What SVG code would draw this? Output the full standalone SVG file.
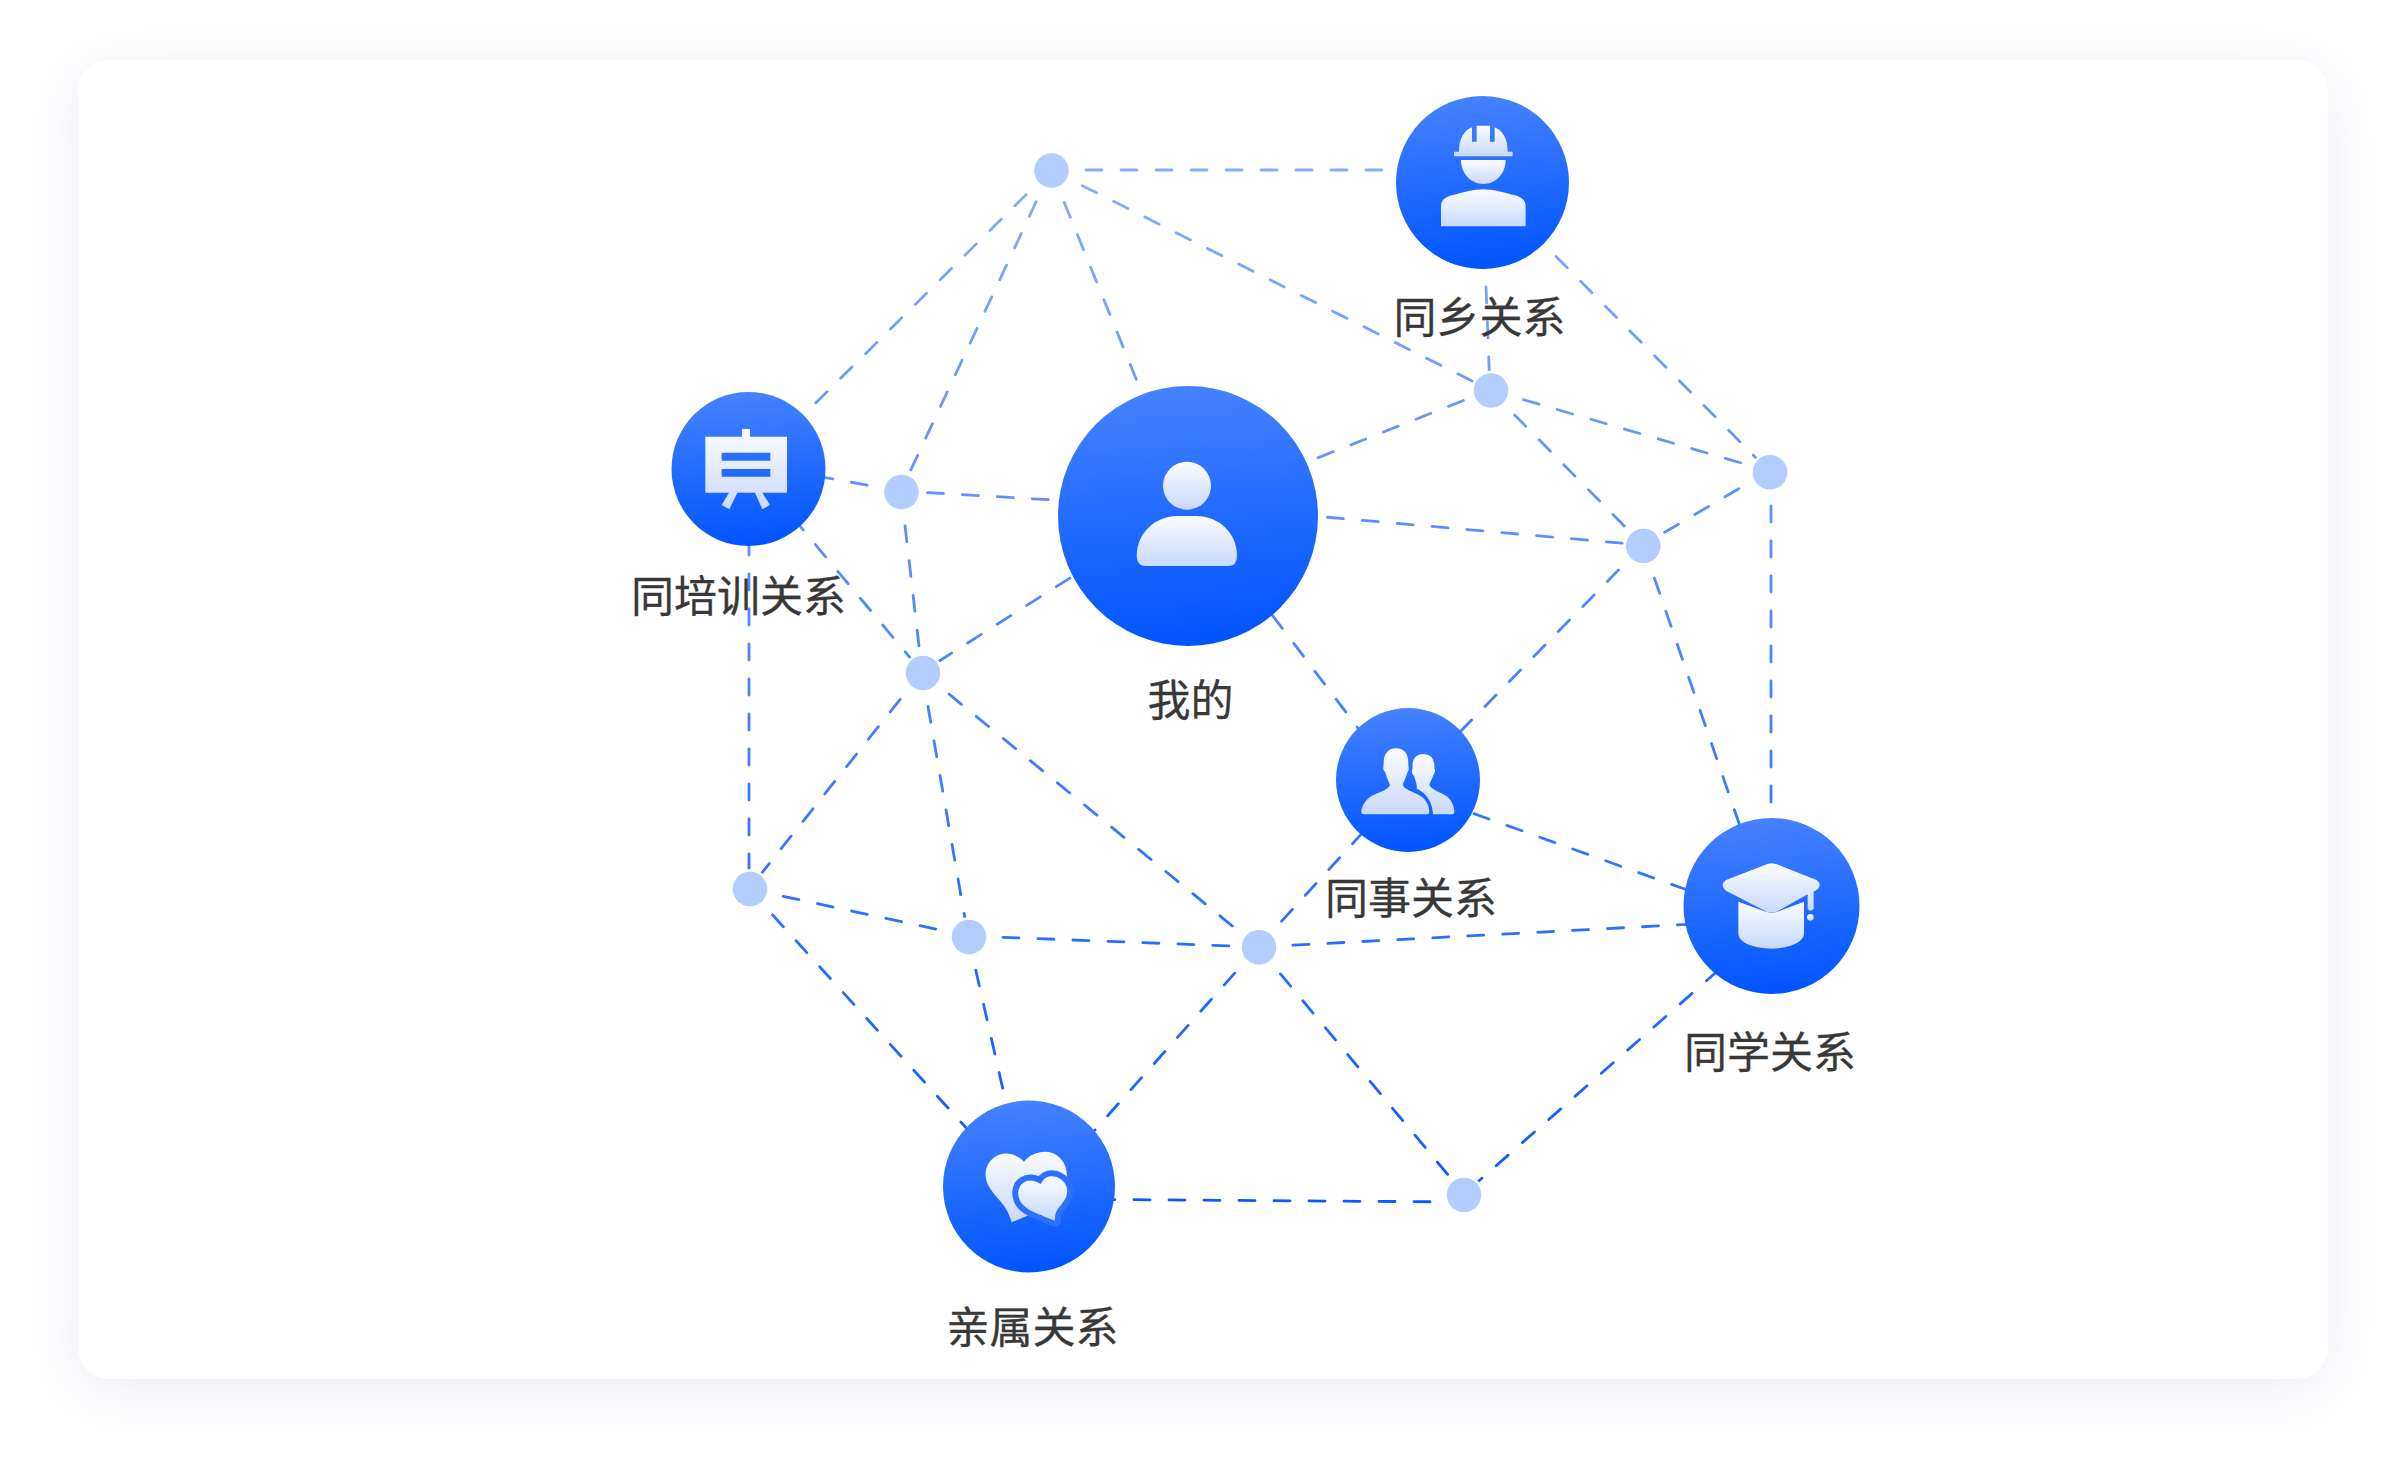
<svg xmlns="http://www.w3.org/2000/svg" width="2406" height="1475" viewBox="0 0 2406 1475">
<style>
.edge{fill:none;stroke:url(#edgeGrad);stroke-width:2.8;stroke-dasharray:16 19;stroke-linecap:round}
.dot{fill:#b3cefe;stroke:#fff;stroke-width:5;paint-order:stroke}
.disc{fill:url(#discGrad)}
.ic{fill:url(#iconGrad)}
.label{font-family:"Noto Sans CJK SC","Noto Sans",sans-serif;font-size:43px;fill:#383838;stroke:#383838;stroke-width:.3;text-anchor:middle}
</style>
<defs>
<linearGradient id="discGrad" x1="0.46" y1="0" x2="0.54" y2="1"><stop offset="0" stop-color="#4582ff"/><stop offset="1" stop-color="#0054ff"/></linearGradient>
<linearGradient id="iconGrad" x1="0.5" y1="0" x2="0.5" y2="1"><stop offset="0" stop-color="#fbfcff"/><stop offset="1" stop-color="#c8d9fc"/></linearGradient>
<linearGradient id="edgeGrad" gradientUnits="userSpaceOnUse" x1="0" y1="170" x2="0" y2="1200"><stop offset="0" stop-color="#84adfb"/><stop offset="1" stop-color="#0a5aff"/></linearGradient>
<filter id="cardShadow" x="-6%" y="-10%" width="112%" height="122%"><feDropShadow dx="0" dy="12" stdDeviation="30" flood-color="#1e2878" flood-opacity="0.08"/></filter>
</defs>
<rect width="2406" height="1475" fill="#fff"/>
<rect id="card" x="78" y="60" width="2250" height="1319" rx="32" fill="#fff" filter="url(#cardShadow)"/>
<g id="connectors" class="edge">
<path d="M1051 170H1400"/>
<path d="M1051 170L748 470"/>
<path d="M1051 170L901 491"/>
<path d="M1051 170L1192 516"/>
<path d="M1051 170L1490 390"/>
<path d="M1482 182L1490 390"/>
<path d="M1482 182L1769 471"/>
<path d="M1188 509L1490 390"/>
<path d="M1490 390L1769 471"/>
<path d="M1490 390L1643 545"/>
<path d="M1769 471L1643 545"/>
<path d="M1771 471V906"/>
<path d="M1188 505L1643 545"/>
<path d="M1643 545L1408 785"/>
<path d="M1643 545L1771 916"/>
<path d="M1188 508L901 491"/>
<path d="M1188 503L922 672"/>
<path d="M1188 504L1408 794"/>
<path d="M748 464L901 491"/>
<path d="M748 464L922 672"/>
<path d="M749 469V889"/>
<path d="M901 491L922 672"/>
<path d="M922 672L749 889"/>
<path d="M922 672L968 936"/>
<path d="M922 672L1258 947"/>
<path d="M749 889L968 936"/>
<path d="M749 889L1029 1197"/>
<path d="M968 936L1258 947"/>
<path d="M968 936L1025 1186"/>
<path d="M1258 947L1408 783"/>
<path d="M1258 947L1771 920"/>
<path d="M1258 947L1029 1204"/>
<path d="M1258 947L1464 1194"/>
<path d="M1408 790L1771 920"/>
<path d="M1771 924L1464 1194"/>
<path d="M1029 1199L1464 1202"/>
</g>
<g id="dot1"><circle class="dot" cx="1051.500" cy="170.500" r="17.300"/></g>
<g id="dot2"><circle class="dot" cx="1491" cy="390.500" r="17.300"/></g>
<g id="dot3"><circle class="dot" cx="1770" cy="472.300" r="17.300"/></g>
<g id="dot4"><circle class="dot" cx="1643.300" cy="546" r="17.300"/></g>
<g id="dot5"><circle class="dot" cx="901.500" cy="492" r="17.300"/></g>
<g id="dot6"><circle class="dot" cx="923" cy="673" r="17.300"/></g>
<g id="dot7"><circle class="dot" cx="750" cy="889" r="17.300"/></g>
<g id="dot8"><circle class="dot" cx="969" cy="937" r="17.300"/></g>
<g id="dot9"><circle class="dot" cx="1259" cy="947.300" r="17.300"/></g>
<g id="dot10"><circle class="dot" cx="1464" cy="1195" r="17.300"/></g>

<g id="me">
<circle class="disc" cx="1188" cy="516" r="130"/>
<circle class="ic" cx="1187" cy="485.700" r="24"/>
<path class="ic" d="M1146 566Q1136.700 566 1136.700 556C1136.700 533 1155 516 1178 516H1196C1219 516 1237 533 1237 556Q1237 566 1228 566Z"/>
<text class="label" x="1190.500" y="716">我的</text>
</g>
<g id="hometown">
<circle class="disc" cx="1482.500" cy="182.500" r="86.500"/>
<g transform="translate(1360 60) scale(.3333)">
<path class="ic" d="M297 275C297 235 312 212 336 202V245H350V197H390V245H404V202C428 212 443 235 443 275H458V289H282V275Z"/>
<path class="ic" d="M303 300H437C437 340 408 372 370 372C332 372 303 340 303 300Z"/>
<path class="ic" d="M243 499V440C243 420 255 412 275 406C310 397 345 388 370 388C395 388 430 397 465 406C485 412 497 420 497 440V499Z"/>
</g>
<text class="label" x="1479.500" y="333">同乡关系</text>
</g>
<g id="training">
<circle class="disc" cx="748.500" cy="469" r="77"/>
<g transform="translate(640 370) scale(.3333)">
<path class="ic" fill-rule="evenodd" d="M196 200H306V177H330V200H441V368H367L390 405L367 418L345 368H292L268 418L245 405L267 368H196ZM245 248V272H391V248ZM245 297V320H391V297Z"/>
</g>
<text class="label" x="738.500" y="612">同培训关系</text>
</g>
<g id="colleague">
<circle class="disc" cx="1408" cy="780" r="72"/>
<g transform="translate(1310 690) scale(.3333)">
<path class="ic" d="M258 175C285 175 296 195 295 222C295 235 299 240 293 245C288 262 282 272 278 285C285 300 310 305 330 317C350 328 358 350 358 367Q358 373 352 373H160Q153 373 154 365C156 340 175 322 195 313C215 304 235 298 240 285C235 272 230 262 225 245C218 240 220 232 221 222C220 195 232 175 258 175Z"/>
<path class="ic" d="M340 192C365 192 375 212 373 235C378 240 374 250 370 255C366 268 360 275 358 285C365 300 395 308 412 320C425 330 433 350 433 365Q433 373 425 373H369C368 345 358 325 340 308C332 302 322 298 320 295C322 285 316 270 312 258C305 250 304 242 308 235C305 212 315 192 340 192Z"/>
</g>
<text class="label" x="1411" y="914">同事关系</text>
</g>
<g id="classmate">
<circle class="disc" cx="1771.500" cy="906" r="88"/>
<g transform="translate(1660 800) scale(.3333)">
<path class="ic" d="M235 305L320 336Q335 341 350 336L432 305V400C432 430 380 446 335 446C285 446 235 430 235 400Z"/>
<path class="ic" d="M322 192Q335 188 348 192L470 240Q488 255 470 270L461 275V326Q452 338 443 326V283L350 335Q335 340 320 335L198 272Q178 255 198 240Z"/>
<circle class="ic" cx="451" cy="352" r="10"/>
</g>
<text class="label" x="1770" y="1068">同学关系</text>
</g>
<g id="family">
<circle class="disc" cx="1029" cy="1186.500" r="86"/>
<g transform="translate(920 1080) scale(.3333)">
<path class="ic" d="M312 245C290 222 260 215 235 225C205 238 195 265 197 290C200 320 225 345 245 368C260 385 268 405 275 427L320 408L350 400L440 300C445 265 430 230 395 218C365 210 330 222 312 245Z"/>
<path d="M362 312C345 300 325 298 310 308C292 320 292 345 300 362C315 392 365 405 405 422C405 410 405 400 415 385C435 362 445 345 441 325C435 300 410 285 385 290C375 293 368 300 362 312Z" fill="#2b70ff" stroke="#2b70ff" stroke-width="36" stroke-linejoin="round"/>
<path class="ic" d="M362 312C345 300 325 298 310 308C292 320 292 345 300 362C315 392 365 405 405 422C405 410 405 400 415 385C435 362 445 345 441 325C435 300 410 285 385 290C375 293 368 300 362 312Z"/>
</g>
<text class="label" x="1032.500" y="1343">亲属关系</text>
</g>
</svg>
